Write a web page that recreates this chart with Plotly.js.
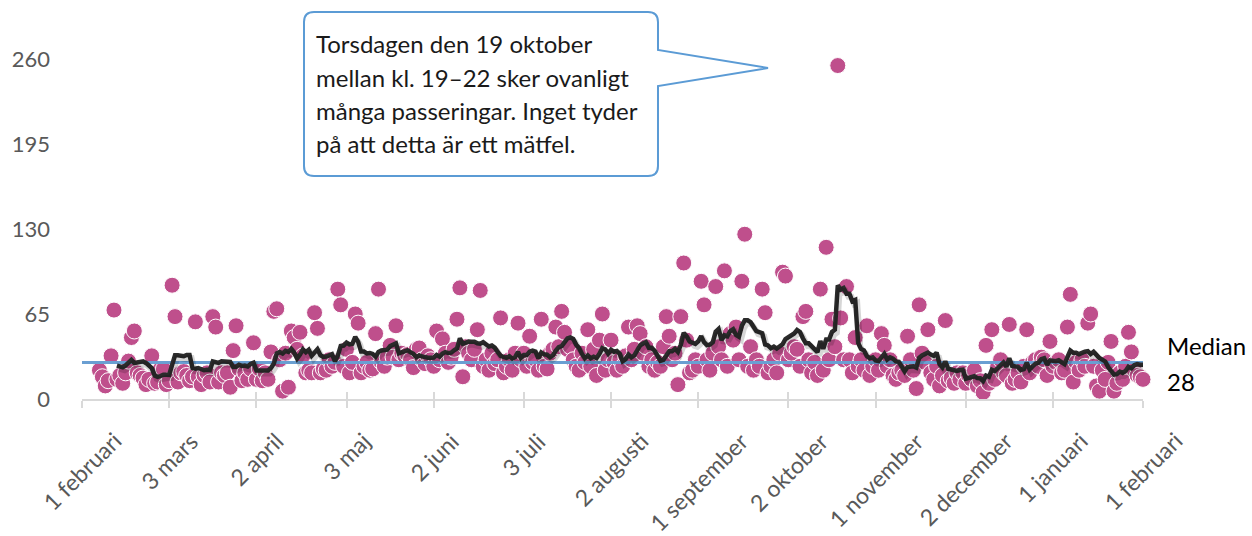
<!DOCTYPE html>
<html>
<head>
<meta charset="utf-8">
<script src="https://cdn.plot.ly/plotly-3.0.1.min.js"></script>
<style>
html,body{margin:0;padding:0;background:#ffffff;}
#chart{width:1252px;height:536px;}
</style>
</head>
<body>
<div id="chart"></div>
<script>
// ---------- DATA ----------
const firstDay = '2017-02-07';
const feb2017 = [22,17,10,14,33,68,15,18,12,20,29,47,52,20,18,16,11,15,33,12,13,23];
const mar2017 = [23,11,14,87,63,13,20,21,18,14,17,59,17,11,18,20,13,63,55,13,20,18,20,9,37,56,23,14,20,15,23];
const apr2017 = [43,15,23,14,20,15,36,67,69,30,6,35,9,52,47,38,51,33,20,22,20,66,54,20,23,22,30,25,28,84];
const maj2017 = [72,25,38,20,28,65,58,20,25,28,22,23,50,84,28,25,32,41,32,56,30,35,33,34,30,24,38,39,30,27,33];
const jun2017 = [30,25,52,30,46,35,28,32,38,61,85,17,40,35,30,38,53,83,25,30,22,35,27,30,62,20,25,30,22,35];
const jul2017 = [58,30,35,25,48,28,30,22,61,25,23,35,38,55,40,67,51,38,40,30,25,22,35,28,53,25,38,18,45,65,22];
const aug2017 = [30,45,28,22,30,25,33,55,30,38,56,50,35,40,25,30,22,28,25,40,63,48,30,35,11,63,104,45,20,22,30];
const sep2017 = [25,90,72,30,22,35,86,40,30,98,25,50,45,55,30,90,126,25,40,22,30,25,84,66,20,25,30,20,35,97];
const okt2017 = [94,30,35,40,38,25,63,67,30,20,28,18,84,22,116,30,61,40,255,62,30,86,30,20,47,25,30,22,56,18,25];
const nov2017 = [30,22,50,41,25,30,18,15,20,22,18,48,30,22,8,72,35,28,53,20,15,25,10,18,60,14,16,12,20,15];
const dec2017 = [20,12,18,15,22,10,14,5,41,12,53,15,25,30,20,18,57,12,15,20,13,25,53,20,28,30,25,32,30,18,44];
const jan2018 = [25,28,30,20,22,55,80,13,28,22,30,25,58,65,25,10,6,22,15,28,44,6,12,20,15,25,51,36,22,18,17];
const feb2018 = [15];

const medianValue = 28;
const medianLabel = ['Median', '28'];
const movingAvgPeriod = 7;

const axisStart = '2017-02-01';
const axisEnd = '2018-02-01';
const tickDates = ['2017-02-01','2017-03-03','2017-04-02','2017-05-03','2017-06-02','2017-07-03',
                   '2017-08-02','2017-09-01','2017-10-02','2017-11-01','2017-12-02','2018-01-01','2018-02-01'];
const tickLabels = ['1 februari','3 mars','2 april','3 maj','2 juni','3 juli',
                    '2 augusti','1 september','2 oktober','1 november','2 december','1 januari','1 februari'];
const yTicks = [0, 65, 130, 195, 260];

const calloutLines = [
  'Torsdagen den 19 oktober',
  'mellan kl. 19\u201322 sker ovanligt',
  'många passeringar. Inget tyder',
  'på att detta är ett mätfel.'
];

// ---------- BUILD SERIES ----------
const values = [].concat(feb2017, mar2017, apr2017, maj2017, jun2017, jul2017,
                         aug2017, sep2017, okt2017, nov2017, dec2017, jan2018, feb2018);
function isoDay(i){
  const p = firstDay.split('-').map(Number);
  const d = new Date(Date.UTC(p[0], p[1]-1, p[2] + i));
  return d.toISOString().slice(0,10);
}
const dates = values.map((v,i)=>isoDay(i));
const maX = [], maY = [];
for(let i = movingAvgPeriod-1; i < values.length; i++){
  let s = 0;
  for(let k = i-movingAvgPeriod+1; k <= i; k++) s += values[k];
  maX.push(dates[i]); maY.push(s/movingAvgPeriod);
}

// ---------- GEOMETRY (pixels -> paper) ----------
const W = 1252, H = 536;
const M = {l:82, r:109, t:59, b:137};
const PW = W - M.l - M.r, PH = H - M.t - M.b;
const fx = X => (X - M.l)/PW;
const fy = Y => (M.t + PH - Y)/PH;
const FONT = 'Lato, sans-serif';

// shadow offset for the moving-average line (pixels -> axis units)
const DAY_MS = 86400000;
const startMs = Date.parse(axisStart + 'T00:00:00Z'), endMs = Date.parse(axisEnd + 'T00:00:00Z');
const msPerPx = (endMs - startMs)/PW;
const unitsPerPx = 260/PH;
const shX = 2, shY = 3;
const x3range = [new Date(startMs - shX*msPerPx).toISOString(), new Date(endMs - shX*msPerPx).toISOString()];
const y2range = [shY*unitsPerPx, 260 + shY*unitsPerPx];

// callout bubble
const bx0 = 304, bx1 = 658, by0 = 12, by1 = 176, rr = 10;
const wTop = 50, wBot = 86, tipX = 768, tipY = 68;
const P = (X,Y) => fx(X).toFixed(5) + ',' + fy(Y).toFixed(5);
const bubblePath =
  'M' + P(bx0+rr,by0) + ' L' + P(bx1-rr,by0) + ' Q' + P(bx1,by0) + ' ' + P(bx1,by0+rr) +
  ' L' + P(bx1,wTop) + ' L' + P(tipX,tipY) + ' L' + P(bx1,wBot) +
  ' L' + P(bx1,by1-rr) + ' Q' + P(bx1,by1) + ' ' + P(bx1-rr,by1) +
  ' L' + P(bx0+rr,by1) + ' Q' + P(bx0,by1) + ' ' + P(bx0,by1-rr) +
  ' L' + P(bx0,by0+rr) + ' Q' + P(bx0,by0) + ' ' + P(bx0+rr,by0) + ' Z';

const lineY = [44, 77, 110, 143];
const annotations = calloutLines.map((t,i)=>({
  xref:'paper', yref:'paper', x:fx(314), y:fy(lineY[i]), xanchor:'left', yanchor:'middle',
  text:t, showarrow:false, font:{family:FONT, size:24, color:'#1a1a1a'}
}));
annotations.push({xref:'paper', yref:'paper', x:fx(1165), y:fy(345), xanchor:'left', yanchor:'middle',
  text:medianLabel[0], showarrow:false, font:{family:FONT, size:24, color:'#000000'}});
annotations.push({xref:'paper', yref:'paper', x:fx(1165), y:fy(381), xanchor:'left', yanchor:'middle',
  text:medianLabel[1], showarrow:false, font:{family:FONT, size:24, color:'#000000'}});
// x tick labels: rotated, horizontally centred on each tick (as in the original)
tickDates.forEach((d,i)=>{
  annotations.push({xref:'x', yref:'paper', x:d, y:fy(424), xanchor:'center', yanchor:'top',
    textangle:-45, text:tickLabels[i], showarrow:false, font:{family:FONT, size:23, color:'#595959'}});
});

// ---------- TRACES ----------
const traces = [
  {type:'scatter', mode:'markers', x:dates, y:values, xaxis:'x', yaxis:'y', cliponaxis:false,
   marker:{size:16, color:'#BF4F8C', line:{color:'#ffffff', width:1}}, hoverinfo:'x+y'},
  {type:'scatter', mode:'lines', x:maX, y:maY, xaxis:'x3', yaxis:'y2',
   line:{color:'rgba(0,0,0,0.16)', width:6}, cliponaxis:false, hoverinfo:'skip'},
  {type:'scatter', mode:'lines', x:[axisStart, axisEnd], y:[medianValue, medianValue], xaxis:'x2', yaxis:'y',
   line:{color:'#6A9FD2', width:3}, cliponaxis:false, hoverinfo:'y'},
  {type:'scatter', mode:'lines', x:maX, y:maY, xaxis:'x2', yaxis:'y',
   line:{color:'#2B2B2B', width:4.5}, cliponaxis:false, hoverinfo:'y'}
];

const layout = {
  width:W, height:H,
  margin:{l:M.l, r:M.r, t:M.t, b:M.b, pad:0},
  paper_bgcolor:'#ffffff', plot_bgcolor:'#ffffff',
  showlegend:false,
  font:{family:FONT, color:'#595959'},
  xaxis:{type:'date', range:[axisStart, axisEnd], tickmode:'array', tickvals:tickDates,
         showticklabels:false, ticks:'outside', ticklen:7, tickwidth:2, tickcolor:'#D9D9D9',
         showline:true, linecolor:'#D9D9D9', linewidth:2, showgrid:false, zeroline:false,
         anchor:'y', fixedrange:true},
  xaxis2:{type:'date', overlaying:'x', anchor:'y', side:'bottom', range:[axisStart, axisEnd],
          tickmode:'array', tickvals:tickDates, ticks:'inside', ticklen:7, tickwidth:2, tickcolor:'#D9D9D9',
          showticklabels:false, showline:false, showgrid:false, zeroline:false, fixedrange:true},
  xaxis3:{type:'date', overlaying:'x', anchor:'y2', range:x3range, visible:false, fixedrange:true},
  yaxis:{range:[0,260], tickmode:'array', tickvals:yTicks, showgrid:false, zeroline:false, showline:false,
         ticks:'', tickfont:{family:FONT, size:22, color:'#595959'}, ticklabelstandoff:31, fixedrange:true},
  yaxis2:{overlaying:'y', anchor:'x3', range:y2range, visible:false, fixedrange:true},
  shapes:[{type:'path', xref:'paper', yref:'paper', path:bubblePath,
           line:{color:'#5B9BD5', width:2}, fillcolor:'#ffffff', layer:'above'}],
  annotations:annotations
};

Plotly.newPlot('chart', traces, layout, {displayModeBar:false, staticPlot:true});
</script>
</body>
</html>
